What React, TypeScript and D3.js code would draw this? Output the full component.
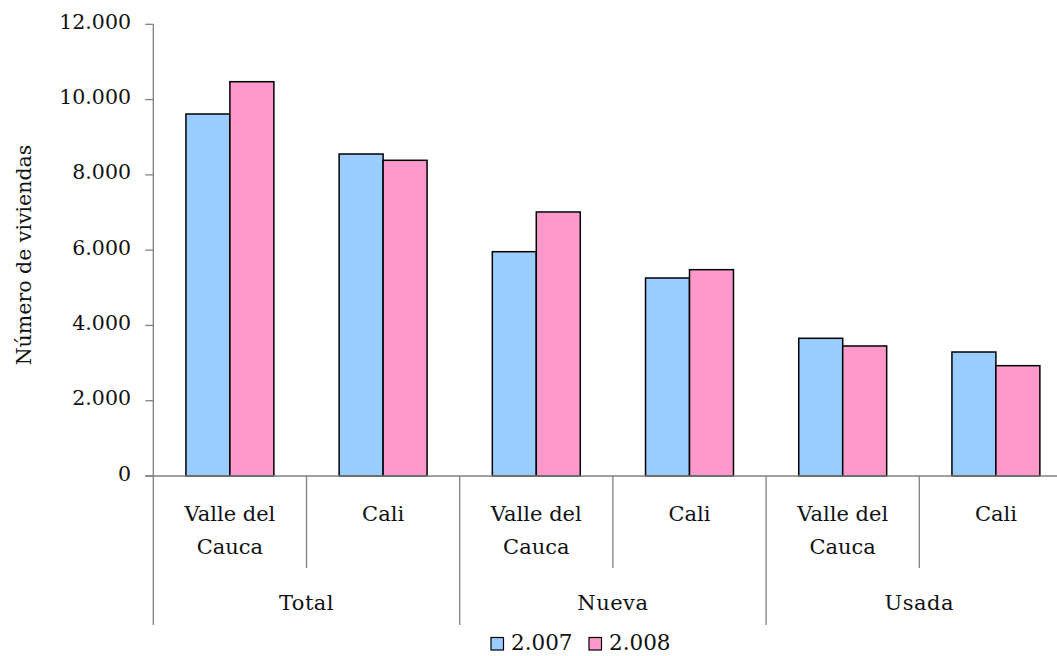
import React from "react";
import * as d3 from "d3";

const subCategories = ["Valle del\nCauca", "Cali", "Valle del\nCauca", "Cali", "Valle del\nCauca", "Cali"];
const groups = ["Total", "Nueva", "Usada"];
const seriesNames = ["2.007", "2.008"];
const values2007 = [9617, 8554, 5959, 5260, 3658, 3294];
const values2008 = [10475, 8387, 7014, 5481, 3454, 2931];
const yTicks = [0, 2000, 4000, 6000, 8000, 10000, 12000];
const colors = ["#99CCFF", "#FF99CC"];

const W = 1057, H = 656;
const FONT = "'DejaVu Serif', serif";

export default function App() {
  const x0 = 153.3;
  const step = 153.2;
  const x = d3.scaleBand<number>().domain(d3.range(6)).range([x0, x0 + step * 6]).paddingInner(0.426).paddingOuter(0.213);
  const y = d3.scaleLinear().domain([0, 12000]).range([476, 24.3]);
  const fmt = (v: number) => d3.format(",")(v).replace(/,/g, ".");
  const bw = x.bandwidth() / 2;
  const series = [values2007, values2008];
  const axisColor = "#808080";
  const y0 = y(0);
  const legendX = [491, 589];
  return (
    <svg width={W} height={H} style={{ position: "absolute", left: 0, top: 0, background: "#fff" }} fontFamily={FONT}>
      <rect x={0} y={0} width={W} height={H} fill="#fff" />
      {/* y axis */}
      <line x1={x0} x2={x0} y1={y(12000)} y2={625} stroke={axisColor} strokeWidth={1.3} />
      {yTicks.map((t) => (
        <g key={t}>
          <line x1={x0 - 8} x2={x0} y1={y(t)} y2={y(t)} stroke={axisColor} strokeWidth={1.3} />
          <text x={131} y={y(t) + 4.5} textAnchor="end" fontSize={20.5} fill="#111">{fmt(t)}</text>
        </g>
      ))}
      <text transform={`translate(31,${255}) rotate(-90)`} textAnchor="middle" fontSize={20.5} fill="#111">Número de viviendas</text>
      {/* bars */}
      {series.map((vals, si) =>
        vals.map((v, i) => (
          <rect key={`${si}-${i}`} x={(x(i) as number) + si * bw} y={y(v)} width={bw} height={y0 - y(v)} fill={colors[si]} stroke="#000" strokeWidth={1.5} />
        ))
      )}
      {/* x axis */}
      <line x1={x0 - 8} x2={W} y1={y0} y2={y0} stroke={axisColor} strokeWidth={1.3} />
      {d3.range(1, 6).map((i) => {
        const xx = x0 + step * i;
        const isGroup = i % 2 === 0;
        return <line key={i} x1={xx} x2={xx} y1={y0} y2={isGroup ? 625 : 568} stroke={axisColor} strokeWidth={1.3} />;
      })}
      {subCategories.map((c, i) => {
        const cx = (x(i) as number) + x.bandwidth() / 2;
        return c.split("\n").map((line, li) => (
          <text key={`${i}-${li}`} x={cx} y={521 + li * 33} textAnchor="middle" fontSize={21} fill="#111">{line}</text>
        ));
      })}
      {groups.map((g, gi) => (
        <text key={g} x={x0 + step * (gi * 2 + 1)} y={610} textAnchor="middle" fontSize={21} fill="#111" letterSpacing={0.5}>{g}</text>
      ))}
      {/* legend */}
      {seriesNames.map((s, si) => {
        const lx = legendX[si];
        return (
          <g key={s}>
            <rect x={lx} y={637.5} width={12.5} height={12.5} fill={colors[si]} stroke="#000" strokeWidth={1.2} />
            <text x={lx + 20} y={649.5} fontSize={21.5} fill="#111">{s}</text>
          </g>
        );
      })}
    </svg>
  );
}
